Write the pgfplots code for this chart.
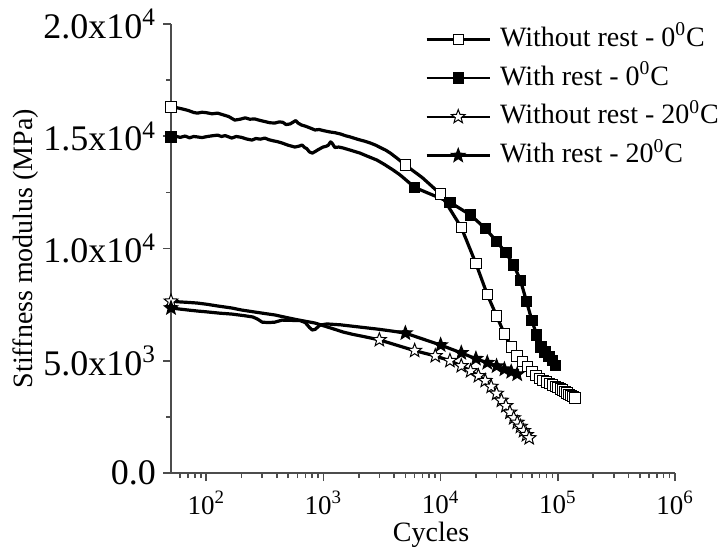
\documentclass[border=0pt]{standalone}
\usepackage{fontspec}
\setmainfont{Liberation Serif}
\usepackage{pgfplots}
\pgfplotsset{compat=1.18}

% five-pointed star, filled with the mark's fill colour
\pgfdeclareplotmark{fivestar}{%
  \pgfpathmoveto{\pgfpointpolar{90}{\pgfplotmarksize}}%
  \pgfpathlineto{\pgfpointpolar{126}{0.42\pgfplotmarksize}}%
  \pgfpathlineto{\pgfpointpolar{162}{\pgfplotmarksize}}%
  \pgfpathlineto{\pgfpointpolar{198}{0.42\pgfplotmarksize}}%
  \pgfpathlineto{\pgfpointpolar{234}{\pgfplotmarksize}}%
  \pgfpathlineto{\pgfpointpolar{270}{0.42\pgfplotmarksize}}%
  \pgfpathlineto{\pgfpointpolar{306}{\pgfplotmarksize}}%
  \pgfpathlineto{\pgfpointpolar{342}{0.42\pgfplotmarksize}}%
  \pgfpathlineto{\pgfpointpolar{18}{\pgfplotmarksize}}%
  \pgfpathlineto{\pgfpointpolar{54}{0.42\pgfplotmarksize}}%
  \pgfpathclose
  \pgfusepathqfillstroke
}

\tikzset{
  curve/.style={black, line width=1.6pt, mark=none, line join=round},
  opensq/.style={mark=square*, mark size=2.6pt, mark options={fill=white, draw=black, line width=0.5pt, solid}},
  fullsq/.style={mark=square*, mark size=2.6pt, mark options={fill=black, draw=black, line width=0.5pt, solid}},
  openst/.style={mark=fivestar, mark size=3.6pt, mark options={fill=white, draw=black, line width=0.5pt, solid}},
  fullst/.style={mark=fivestar, mark size=3.6pt, mark options={fill=black, draw=black, line width=0.5pt, solid}}
}

\begin{document}
\begin{tikzpicture}
\begin{axis}[
  at={(0,0)}, anchor=south west,
  scale only axis, width=252pt, height=224.5pt,
  xmode=log, xmin=50, xmax=1e6, ymin=0, ymax=20000,
  scaled y ticks=false,
  axis x line*=bottom, axis y line*=left,
  axis line style={black!70, line width=0.8pt, -},
  tick align=outside, major tick length=4pt, minor tick length=2.5pt,
  every tick/.style={black!70, line width=0.8pt},
  xtick={100,1000,10000,100000,1000000},
  xticklabels={10\textsuperscript{2},10\textsuperscript{3},10\textsuperscript{4},10\textsuperscript{5},10\textsuperscript{6}},
  minor xtick={60,70,80,90,200,300,400,500,600,700,800,900,2000,3000,4000,5000,6000,7000,8000,9000,20000,30000,40000,50000,60000,70000,80000,90000,200000,300000,400000,500000,600000,700000,800000,900000},
  ytick={0,5000,10000,15000,20000},
  yticklabels={0.0,5.0x10\textsuperscript{3},1.0x10\textsuperscript{4},1.5x10\textsuperscript{4},2.0x10\textsuperscript{4}},
  minor ytick={2500,7500,12500,17500},
  xticklabel style={font=\fontsize{13.5}{15}\selectfont, yshift=-1.5pt},
  yticklabel style={font=\fontsize{18}{20}\selectfont},
  xlabel={Cycles}, ylabel={Stiffness modulus (MPa)},
  label style={font=\fontsize{14}{16}\selectfont},
  xlabel style={at={(axis description cs:0.516,-0.153)}, anchor=base},
  ylabel style={at={(axis description cs:-0.274,0.5)}, anchor=base},
  legend image code/.code={\draw[mark repeat=2,mark phase=2,#1] plot coordinates {(0pt,0pt) (15.75pt,0pt) (31.5pt,0pt)};},
  legend style={at={(axis description cs:0.504,0.998)}, anchor=north west, draw=none, fill=none,
    inner sep=0pt, row sep=5.5pt, column sep=4.5pt, font=\fontsize{14}{16}\selectfont,
    nodes={inner sep=0pt, text height=10.5pt, text depth=3.4pt}},
  legend cell align=left,
]
\addlegendimage{black, line width=1.3pt, opensq}
\addlegendentry{Without rest - 0\textsuperscript{0}C}
\addlegendimage{black, line width=1.3pt, fullsq}
\addlegendentry{With rest - 0\textsuperscript{0}C}
\addlegendimage{black, line width=1.3pt, openst}
\addlegendentry{Without rest - 20\textsuperscript{0}C}
\addlegendimage{black, line width=1.3pt, fullst}
\addlegendentry{With rest - 20\textsuperscript{0}C}

% without rest, 0 C
\addplot[curve, forget plot] coordinates {
(50,16300) (55,16280) (62,16220) (70,16150) (78,16060) (84,16030) (92,16070) (100,16050)
(112,16000) (125,16030) (140,15950) (155,15880) (175,15720) (195,15760) (215,15820) (235,15760)
(260,15770) (290,15700) (320,15650) (350,15600) (385,15590) (420,15640) (450,15620) (480,15520)
(520,15550) (580,15700) (606,15590) (650,15500) (700,15450) (760,15380) (847,15280) (920,15300)
(1000,15250) (1138,15190) (1250,15160) (1400,15100) (1550,15020) (1689,14970) (2000,14850)
(2250,14780) (2507,14700) (2800,14600) (3100,14480) (3400,14380) (3722,14250) (4300,14000)
(5000,13720) (7000,13150) (10000,12420) (15000,10940) (20000,9330) (25000,7950) (30000,7000)
(35000,6200) (40000,5620) (45000,5210) (50000,4960) (55000,4740) (60000,4520) (65000,4340)
(70000,4210) (75000,4120) (80000,4050) (85000,3990) (90000,3920) (95000,3860) (100000,3800)
(105000,3740) (110000,3690) (115000,3630) (120000,3570) (125000,3510) (130000,3450)
(135000,3400) (140000,3350)
};
% with rest, 0 C
\addplot[curve, forget plot] coordinates {
(50,14960) (55,15000) (60,14950) (66,15010) (72,14930) (78,14990) (84,14970) (92,14940)
(100,14980) (112,15020) (125,15050) (135,14990) (145,15030) (165,14920) (180,14990) (200,14950)
(220,14880) (245,14830) (265,14900) (290,14870) (316,14920) (340,14850) (370,14800) (405,14760)
(443,14700) (500,14600) (570,14520) (620,14560) (656,14610) (690,14500) (720,14450) (760,14300)
(803,14250) (850,14320) (900,14400) (991,14520) (1050,14550) (1100,14600) (1150,14750) (1182,14700)
(1250,14500) (1350,14520) (1464,14480) (1700,14380) (2050,14250) (2400,14100) (2858,13940)
(3300,13750) (3920,13500) (4500,13280) (5200,13000) (6000,12720) (12000,12060) (18000,11490)
(24000,10900) (30000,10320) (36000,9810) (42000,9270) (48000,8580) (54000,7650) (60000,6800)
(66000,6150) (72000,5610) (78000,5390) (84000,5200) (90000,5000) (96000,4800) (99000,4720)
};
% without rest, 20 C
\addplot[curve, forget plot] coordinates {
(50,7650) (60,7620) (70,7600) (84,7570) (100,7520) (125,7440) (165,7350) (200,7260) (260,7170)
(320,7100) (385,7040) (480,6930) (606,6820) (700,6760) (847,6680) (1000,6560) (1200,6430)
(1470,6280) (1800,6170) (2200,6080) (2600,6000) (3000,5930) (6000,5450) (9000,5215) (12000,5000)
(15000,4770) (18000,4545) (21000,4325) (24000,4110) (27000,3850) (30000,3540) (33000,3230)
(36000,2990) (39000,2700) (42000,2450) (45000,2250) (48000,2070) (51000,1880) (54000,1700)
(57000,1560)
};
% with rest, 20 C
\addplot[curve, forget plot] coordinates {
(50,7350) (60,7300) (70,7260) (84,7215) (100,7180) (130,7120) (165,7080) (210,7010) (250,6950)
(275,6850) (300,6720) (340,6700) (385,6720) (443,6810) (520,6800) (630,6790) (700,6700)
(760,6480) (803,6370) (850,6400) (935,6590) (1070,6640) (1400,6600) (2050,6500) (3000,6400)
(4000,6310) (5000,6230) (10000,5700) (15000,5350) (20000,5090) (25000,4910) (30000,4760)
(35000,4620) (40000,4510) (45000,4400)
};

% markers
\addplot[only marks, opensq, forget plot] coordinates {
(50,16300) (5000,13720) (10000,12420) (15000,10940) (20000,9330) (25000,7950) (30000,7000)
(35000,6200) (40000,5620) (45000,5210) (50000,4960) (55000,4740) (60000,4520) (65000,4340)
(70000,4210) (75000,4120) (80000,4050) (85000,3990) (90000,3920) (95000,3860) (100000,3800)
(105000,3740) (110000,3690) (115000,3630) (120000,3570) (125000,3510) (130000,3450)
(135000,3400) (140000,3350)
};
\addplot[only marks, fullsq, forget plot] coordinates {
(50,14960) (6000,12720) (12000,12060) (18000,11490) (24000,10900) (30000,10320) (36000,9810)
(42000,9270) (48000,8580) (54000,7650) (60000,6800) (66000,6150) (72000,5610) (78000,5390)
(84000,5200) (90000,5000) (96000,4800)
};
\addplot[only marks, openst, forget plot] coordinates {
(50,7650) (3000,5930) (6000,5450) (9000,5215) (12000,5000) (15000,4770) (18000,4545)
(21000,4325) (24000,4110) (27000,3850) (30000,3540) (33000,3230) (36000,2990) (39000,2700)
(42000,2450) (45000,2250) (48000,2070) (51000,1880) (54000,1700) (57000,1560)
};
\addplot[only marks, fullst, forget plot] coordinates {
(50,7350) (5000,6230) (10000,5700) (15000,5350) (20000,5090) (25000,4910) (30000,4760)
(35000,4620) (40000,4510) (45000,4400)
};
\end{axis}
\pgfresetboundingbox
\useasboundingbox (-85.5pt,-37.5pt) rectangle (277.5pt,236.5pt);
\end{tikzpicture}
\end{document}
